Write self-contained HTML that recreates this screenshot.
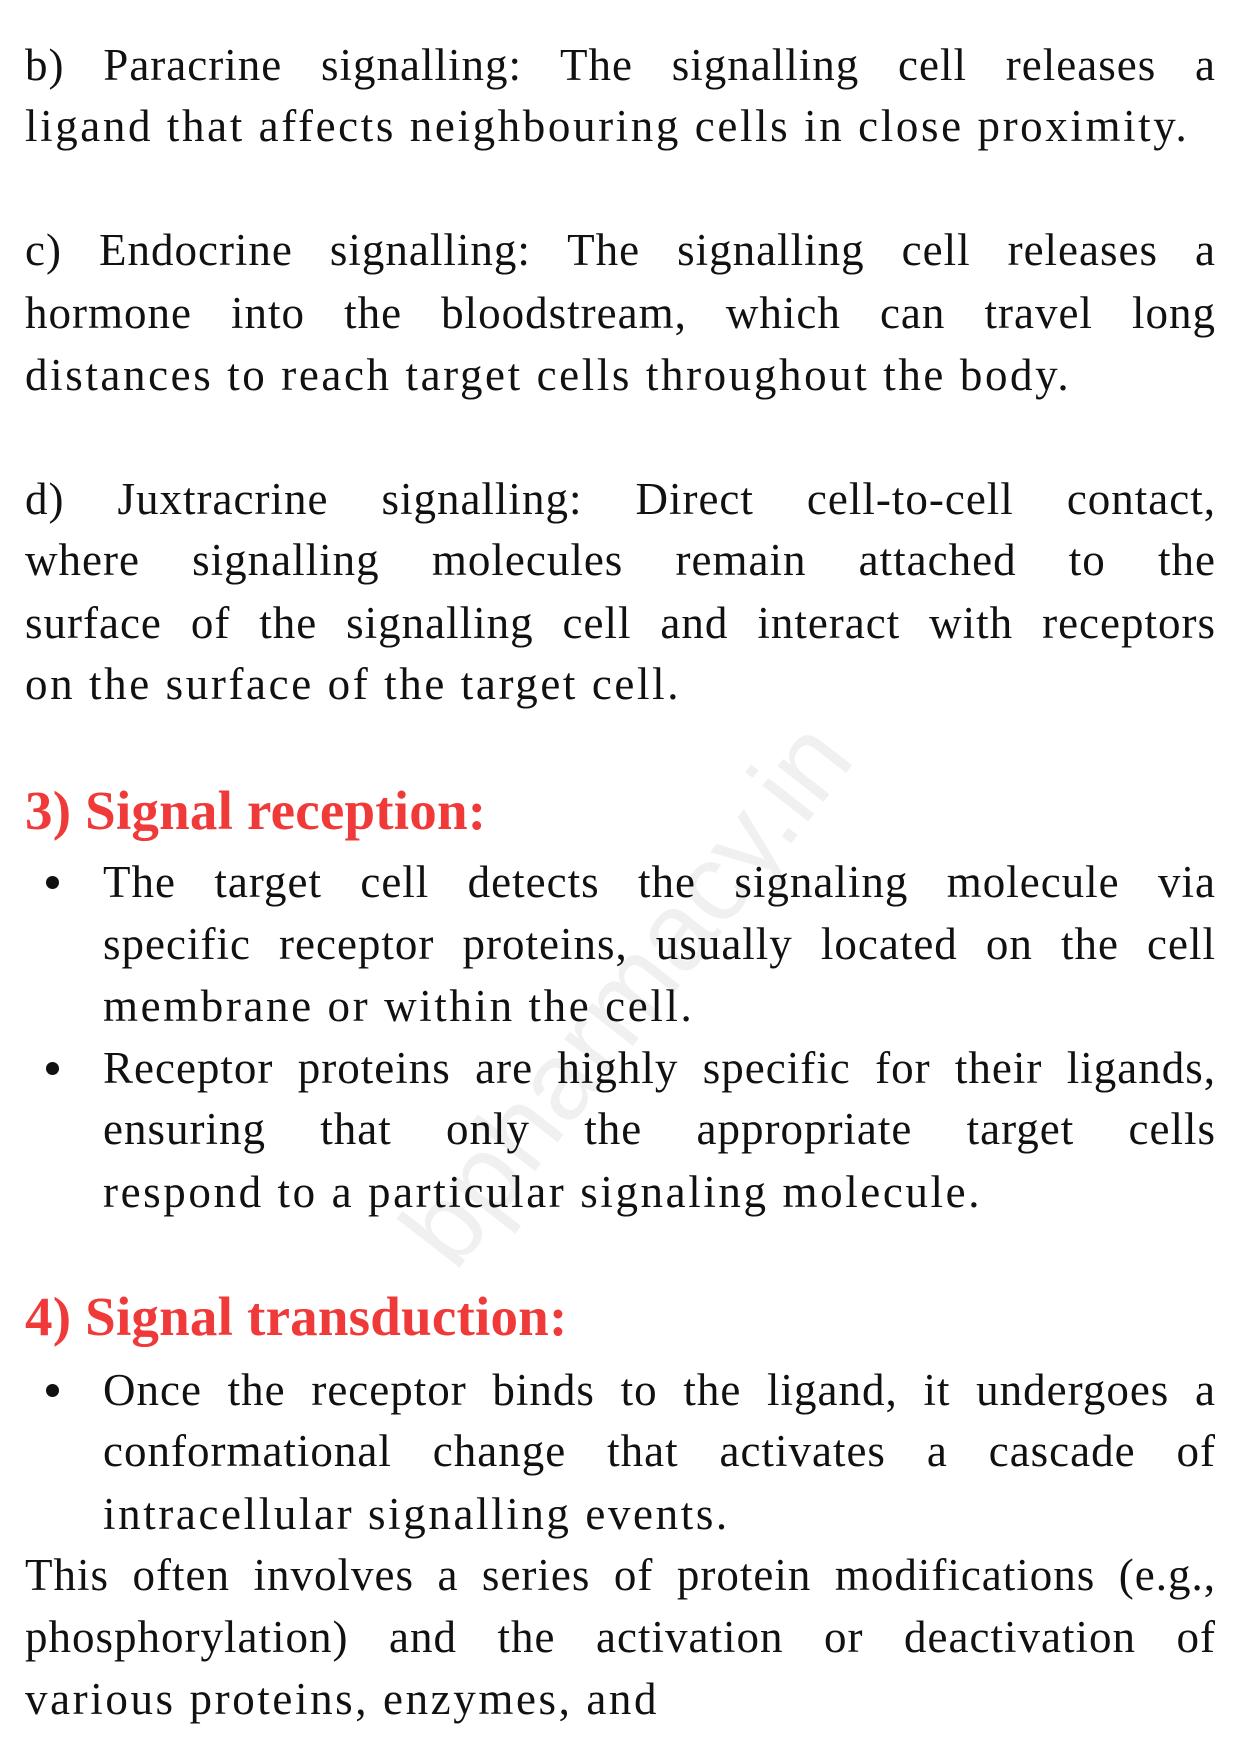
<!DOCTYPE html>
<html><head><meta charset="utf-8"><style>
body{margin:0;width:1241px;height:1754px;background:#fff;position:relative;overflow:hidden;font-family:"Liberation Serif",serif;color:#111}
.l{position:absolute;left:25px;width:1191px;height:62px;line-height:62px;font-size:45px;white-space:nowrap;letter-spacing:2.6px}
.j{text-align:justify;text-align-last:justify;white-space:normal;letter-spacing:1px}
.i{left:103px;width:1113px}
.h{position:absolute;left:25px;font-size:55px;font-weight:bold;color:#f03a3a;line-height:62px;letter-spacing:0.2px}
.b{position:absolute;left:46px;width:13px;height:13px;border-radius:50%;background:#111}
.wm{position:absolute;left:300px;top:930px;font-family:"Liberation Sans",sans-serif;font-size:110px;color:#f0f0f0;transform:rotate(-52deg);white-space:nowrap}
</style></head><body>
<div class="wm">bpharmacy.in</div>
<div class="l j" style="top:34px">b) Paracrine signalling: The signalling cell releases a</div>
<div class="l" style="top:95px">ligand that affects neighbouring cells in close proximity.</div>
<div class="l j" style="top:219px">c) Endocrine signalling: The signalling cell releases a</div>
<div class="l j" style="top:282px">hormone into the bloodstream, which can travel long</div>
<div class="l" style="top:344px">distances to reach target cells throughout the body.</div>
<div class="l j" style="top:468px">d) Juxtracrine signalling: Direct cell-to-cell contact,</div>
<div class="l j" style="top:529px">where signalling molecules remain attached to the</div>
<div class="l j" style="top:592px">surface of the signalling cell and interact with receptors</div>
<div class="l" style="top:653px">on the surface of the target cell.</div>
<div class="h" style="top:780px">3) Signal reception:</div>
<div class="b" style="top:876px"></div>
<div class="l j i" style="top:851px">The target cell detects the signaling molecule via</div>
<div class="l j i" style="top:913px">specific receptor proteins, usually located on the cell</div>
<div class="l i" style="top:975px">membrane or within the cell.</div>
<div class="b" style="top:1062px"></div>
<div class="l j i" style="top:1037px">Receptor proteins are highly specific for their ligands,</div>
<div class="l j i" style="top:1098px">ensuring that only the appropriate target cells</div>
<div class="l i" style="top:1161px">respond to a particular signaling molecule.</div>
<div class="h" style="top:1286px">4) Signal transduction:</div>
<div class="b" style="top:1384px"></div>
<div class="l j i" style="top:1359px">Once the receptor binds to the ligand, it undergoes a</div>
<div class="l j i" style="top:1420px">conformational change that activates a cascade of</div>
<div class="l i" style="top:1483px">intracellular signalling events.</div>
<div class="l j" style="top:1544px">This often involves a series of protein modifications (e.g.,</div>
<div class="l j" style="top:1606px">phosphorylation) and the activation or deactivation of</div>
<div class="l" style="top:1668px">various proteins, enzymes, and</div>
</body></html>
